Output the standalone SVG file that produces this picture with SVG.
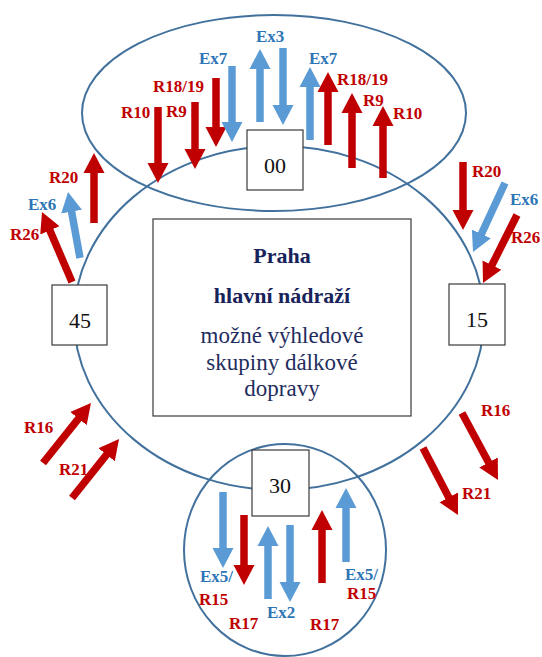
<svg xmlns="http://www.w3.org/2000/svg" width="542" height="657" viewBox="0 0 542 657" font-family="'Liberation Serif', 'Times New Roman', Times, serif">
  <style>
    .zone { fill: none; stroke: #41719C; stroke-width: 2; }
    .box { fill: #ffffff; stroke: #3a3a3a; stroke-width: 1.2; }
    .num { font-size: 22px; fill: #111111; text-anchor: middle; }
    .lbl { font-size: 17px; font-weight: bold; }
    .red { fill: #C00000; }
    .blue { fill: #2E75B6; }
    .ar { stroke: #C00000; stroke-width: 7.5; fill: none; marker-end: url(#headR); }
    .ab { stroke: #5B9BD5; stroke-width: 7.5; fill: none; marker-end: url(#headB); }
    .title { font-size: 22px; font-weight: bold; fill: #17235A; text-anchor: middle; }
    .sub { font-size: 23px; fill: #1F2D5E; text-anchor: middle; }
  </style>
  <defs>
    <marker id="headR" markerUnits="userSpaceOnUse" markerWidth="21" markerHeight="22" viewBox="0 -11 21 22" refX="1" refY="0" orient="auto">
      <path d="M0,-10.5 L20,0 L0,10.5 Z" fill="#C00000"/>
    </marker>
    <marker id="headB" markerUnits="userSpaceOnUse" markerWidth="21" markerHeight="22" viewBox="0 -11 21 22" refX="1" refY="0" orient="auto">
      <path d="M0,-10.5 L20,0 L0,10.5 Z" fill="#5B9BD5"/>
    </marker>
  </defs>

  <rect width="542" height="657" fill="#ffffff"/>

  <!-- station zones -->
  <g id="zones">
    <ellipse id="zone-main" class="zone" cx="279" cy="318" rx="205" ry="172"/>
    <ellipse id="zone-00" class="zone" cx="274" cy="113" rx="192" ry="98"/>
    <ellipse id="zone-30" class="zone" cx="285" cy="550" rx="101" ry="106"/>
  </g>

  <!-- train group arrows -->
  <g id="connectors">
    <!-- group 00 -->
    <line class="ar" x1="158" y1="107" x2="158" y2="164"/>
    <line class="ar" x1="195" y1="102" x2="195" y2="150"/>
    <line class="ar" x1="216" y1="78" x2="216" y2="128"/>
    <line class="ab" x1="232" y1="66" x2="232" y2="123"/>
    <line class="ab" x1="260" y1="122" x2="260" y2="68"/>
    <line class="ab" x1="283" y1="48" x2="283" y2="106"/>
    <line class="ab" x1="310" y1="140" x2="310" y2="86"/>
    <line class="ar" x1="328" y1="145" x2="328" y2="91"/>
    <line class="ar" x1="352" y1="168" x2="352" y2="112"/>
    <line class="ar" x1="383" y1="178" x2="383" y2="125"/>
    <!-- group 45 -->
    <line class="ar" x1="94" y1="223" x2="94" y2="172"/>
    <line class="ab" x1="80" y1="258" x2="71.4" y2="210.7"/>
    <line class="ar" x1="72" y1="282" x2="49.5" y2="229.5"/>
    <!-- group 15 -->
    <line class="ar" x1="463" y1="162" x2="463" y2="211"/>
    <line class="ab" x1="505" y1="183" x2="481" y2="234.8"/>
    <line class="ar" x1="517" y1="215" x2="491.5" y2="266"/>
    <!-- lower left -->
    <line class="ar" x1="43" y1="463" x2="79.1" y2="417.8"/>
    <line class="ar" x1="72" y1="498" x2="107.2" y2="453.9"/>
    <!-- lower right -->
    <line class="ar" x1="462" y1="413" x2="489" y2="463.3"/>
    <line class="ar" x1="423" y1="448" x2="449.2" y2="498.2"/>
    <!-- group 30 -->
    <line class="ab" x1="223" y1="492" x2="223" y2="549"/>
    <line class="ar" x1="244" y1="515" x2="244" y2="566"/>
    <line class="ab" x1="268" y1="599" x2="268" y2="545"/>
    <line class="ab" x1="290" y1="525" x2="290" y2="583"/>
    <line class="ar" x1="322" y1="583" x2="322" y2="529"/>
    <line class="ab" x1="346" y1="562" x2="346" y2="507"/>
  </g>

  <!-- platform group nodes -->
  <g id="node-00">
    <rect class="box" x="247" y="130" width="56" height="60"/>
    <text class="num" x="275" y="173">00</text>
  </g>
  <g id="node-45">
    <rect class="box" x="52" y="285" width="55" height="60"/>
    <text class="num" x="80" y="328">45</text>
  </g>
  <g id="node-15">
    <rect class="box" x="449" y="284" width="56" height="61"/>
    <text class="num" x="477" y="327">15</text>
  </g>
  <g id="node-30">
    <rect class="box" x="252" y="450" width="57" height="66"/>
    <text class="num" x="280" y="493">30</text>
  </g>
  <g id="node-center">
    <rect class="box" x="153" y="219" width="258" height="197"/>
    <text class="title" x="282" y="263">Praha</text>
    <text class="title" x="282" y="303">hlavní nádraží</text>
    <text class="sub" x="282" y="343">možné výhledové</text>
    <text class="sub" x="282" y="370">skupiny dálkové</text>
    <text class="sub" x="282" y="396">dopravy</text>
  </g>

  <!-- arrow labels -->
  <g id="labels">
    <text class="lbl red" x="121" y="118">R10</text>
    <text class="lbl red" x="166" y="117">R9</text>
    <text class="lbl red" x="153" y="92">R18/19</text>
    <text class="lbl blue" x="199" y="64">Ex7</text>
    <text class="lbl blue" x="256" y="42">Ex3</text>
    <text class="lbl blue" x="309" y="64">Ex7</text>
    <text class="lbl red" x="337" y="85">R18/19</text>
    <text class="lbl red" x="363" y="106">R9</text>
    <text class="lbl red" x="393" y="119">R10</text>

    <text class="lbl red" x="49" y="183">R20</text>
    <text class="lbl blue" x="28" y="210">Ex6</text>
    <text class="lbl red" x="10" y="240">R26</text>

    <text class="lbl red" x="472" y="177">R20</text>
    <text class="lbl blue" x="510" y="205">Ex6</text>
    <text class="lbl red" x="511" y="243">R26</text>

    <text class="lbl red" x="24" y="433">R16</text>
    <text class="lbl red" x="59" y="475">R21</text>
    <text class="lbl red" x="481" y="416">R16</text>
    <text class="lbl red" x="462" y="499">R21</text>

    <text class="lbl blue" x="200" y="582">Ex5/</text>
    <text class="lbl red" x="199" y="605">R15</text>
    <text class="lbl red" x="229" y="629">R17</text>
    <text class="lbl blue" x="267" y="618">Ex2</text>
    <text class="lbl red" x="310" y="630">R17</text>
    <text class="lbl blue" x="345" y="580">Ex5/</text>
    <text class="lbl red" x="347" y="599">R15</text>
  </g>
</svg>
